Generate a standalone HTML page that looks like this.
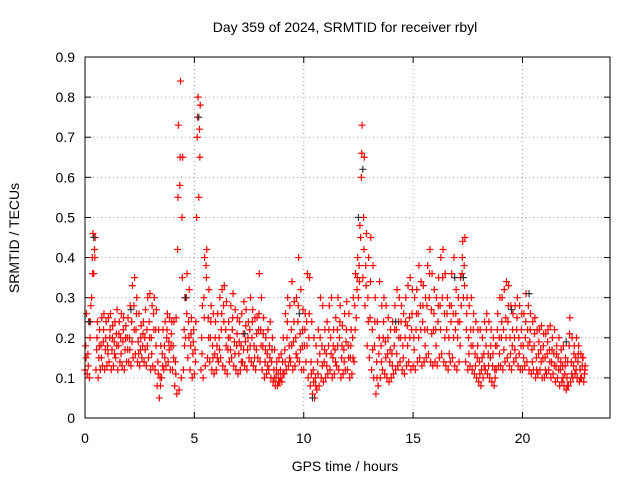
<!DOCTYPE html>
<html><head><meta charset="utf-8"><style>
body{margin:0;background:#fff}
svg{display:block;font-family:"Liberation Sans",sans-serif}
</style></head><body>
<svg id="c" width="640" height="480">
<text x="345" y="32" font-size="14" text-anchor="middle">Day 359 of 2024, SRMTID for receiver rbyl</text>
<text x="345" y="471" font-size="14" text-anchor="middle">GPS time / hours</text>
<text transform="translate(19,238) rotate(-90)" font-size="14" text-anchor="middle">SRMTID / TECUs</text>
<g id="grid"></g><g id="pts"></g>
<rect x="85" y="57" width="525" height="361" fill="none" stroke="#000"/>
</svg>
<script>
const xTicks=[0,5,10,15,20];
const yTicks=[0,0.1,0.2,0.3,0.4,0.5,0.6,0.7,0.8,0.9];
const t0=0, dt=0.1;
const lo=[0.12,0.11,0.10,0.30,0.36,0.12,0.10,0.12,0.13,0.12,
0.13,0.14,0.12,0.13,0.15,0.12,0.14,0.13,0.12,0.14,
0.14,0.13,0.15,0.16,0.14,0.13,0.15,0.14,0.13,0.15,
0.12,0.13,0.12,0.08,0.05,0.10,0.12,0.13,0.14,0.12,
0.12,0.08,0.06,0.07,0.10,0.12,0.20,0.15,0.12,0.10,
0.11,0.50,0.55,0.12,0.10,0.13,0.15,0.14,0.12,0.11,
0.12,0.14,0.15,0.13,0.12,0.11,0.14,0.15,0.13,0.12,
0.11,0.12,0.14,0.13,0.12,0.15,0.14,0.13,0.12,0.15,
0.14,0.12,0.10,0.11,0.12,0.10,0.09,0.08,0.08,0.09,
0.09,0.11,0.12,0.13,0.14,0.12,0.13,0.15,0.14,0.12,
0.12,0.14,0.10,0.08,0.06,0.05,0.07,0.08,0.10,0.09,
0.10,0.11,0.12,0.10,0.11,0.13,0.12,0.10,0.11,0.12,
0.12,0.10,0.11,0.14,0.25,0.30,0.45,0.35,0.28,0.18,
0.15,0.12,0.10,0.06,0.08,0.10,0.12,0.11,0.10,0.09,
0.10,0.11,0.12,0.13,0.14,0.12,0.11,0.13,0.14,0.12,
0.13,0.12,0.14,0.15,0.13,0.14,0.15,0.16,0.14,0.13,
0.14,0.13,0.15,0.16,0.14,0.13,0.12,0.14,0.15,0.13,
0.12,0.14,0.28,0.30,0.14,0.12,0.13,0.12,0.11,0.10,
0.09,0.08,0.10,0.12,0.11,0.10,0.09,0.08,0.12,0.13,
0.13,0.12,0.14,0.15,0.13,0.12,0.14,0.15,0.13,0.12,
0.12,0.13,0.14,0.12,0.11,0.12,0.10,0.11,0.12,0.10,
0.10,0.11,0.12,0.10,0.11,0.09,0.10,0.08,0.09,0.08,
0.07,0.08,0.09,0.10,0.11,0.10,0.09,0.10,0.09];
const mid=[0.18,0.16,0.20,0.40,0.42,0.17,0.15,0.18,0.19,0.17,
0.18,0.20,0.17,0.19,0.21,0.18,0.20,0.19,0.17,0.20,
0.20,0.24,0.28,0.22,0.19,0.17,0.18,0.20,0.22,0.24,
0.20,0.26,0.22,0.14,0.10,0.16,0.18,0.20,0.19,0.18,
0.18,0.14,0.42,0.58,0.50,0.22,0.30,0.24,0.18,0.16,
0.17,0.70,0.72,0.20,0.30,0.38,0.25,0.20,0.18,0.16,
0.18,0.20,0.22,0.28,0.22,0.17,0.20,0.22,0.19,0.18,
0.16,0.18,0.21,0.19,0.17,0.22,0.20,0.18,0.17,0.22,
0.22,0.18,0.14,0.16,0.18,0.14,0.12,0.10,0.11,0.12,
0.14,0.17,0.20,0.18,0.22,0.19,0.20,0.24,0.21,0.18,
0.18,0.24,0.20,0.14,0.12,0.10,0.14,0.16,0.18,0.14,
0.16,0.18,0.20,0.15,0.17,0.22,0.20,0.15,0.17,0.19,
0.18,0.15,0.20,0.28,0.32,0.38,0.60,0.50,0.38,0.30,
0.25,0.22,0.18,0.14,0.16,0.18,0.20,0.19,0.16,0.14,
0.16,0.18,0.22,0.24,0.20,0.18,0.20,0.23,0.25,0.22,
0.20,0.22,0.26,0.28,0.24,0.22,0.28,0.30,0.27,0.22,
0.22,0.24,0.28,0.30,0.26,0.22,0.20,0.24,0.26,0.22,
0.20,0.24,0.36,0.38,0.22,0.20,0.22,0.18,0.16,0.15,
0.14,0.12,0.16,0.18,0.16,0.15,0.13,0.12,0.18,0.20,
0.20,0.22,0.25,0.24,0.20,0.18,0.20,0.22,0.20,0.18,
0.18,0.20,0.22,0.19,0.17,0.18,0.15,0.16,0.17,0.15,
0.15,0.16,0.17,0.14,0.16,0.13,0.15,0.12,0.13,0.11,
0.10,0.18,0.14,0.13,0.15,0.14,0.12,0.13,0.11];
const hi=[0.26,0.24,0.28,0.46,0.45,0.24,0.22,0.25,0.26,0.24,
0.25,0.26,0.23,0.24,0.27,0.24,0.26,0.25,0.23,0.25,
0.28,0.33,0.35,0.30,0.26,0.23,0.24,0.27,0.30,0.31,
0.28,0.30,0.27,0.22,0.18,0.22,0.24,0.26,0.25,0.24,
0.24,0.25,0.73,0.84,0.65,0.30,0.36,0.32,0.25,0.22,
0.24,0.80,0.78,0.28,0.40,0.42,0.32,0.28,0.26,0.24,
0.26,0.30,0.32,0.33,0.29,0.24,0.28,0.31,0.27,0.25,
0.24,0.26,0.29,0.27,0.24,0.30,0.27,0.25,0.25,0.36,
0.30,0.25,0.20,0.22,0.24,0.20,0.17,0.14,0.15,0.16,
0.20,0.26,0.30,0.28,0.34,0.29,0.30,0.40,0.32,0.27,
0.26,0.36,0.35,0.24,0.20,0.18,0.22,0.30,0.28,0.22,
0.24,0.28,0.30,0.22,0.25,0.30,0.28,0.23,0.26,0.29,
0.26,0.22,0.30,0.36,0.40,0.48,0.73,0.65,0.46,0.40,
0.45,0.38,0.30,0.24,0.34,0.28,0.30,0.28,0.25,0.22,
0.24,0.28,0.32,0.30,0.28,0.26,0.30,0.33,0.35,0.32,
0.30,0.32,0.38,0.34,0.33,0.30,0.38,0.42,0.36,0.32,
0.30,0.35,0.40,0.42,0.36,0.30,0.28,0.36,0.40,0.32,
0.30,0.35,0.44,0.45,0.30,0.28,0.30,0.26,0.24,0.22,
0.22,0.20,0.24,0.26,0.24,0.22,0.20,0.18,0.26,0.30,
0.30,0.32,0.34,0.33,0.28,0.26,0.28,0.30,0.28,0.26,
0.26,0.31,0.28,0.26,0.24,0.25,0.22,0.22,0.23,0.21,
0.21,0.22,0.23,0.20,0.22,0.18,0.20,0.17,0.18,0.15,
0.14,0.25,0.20,0.18,0.20,0.18,0.16,0.15,0.13];
const q=[0.15,0.13,0.24,0.36,0.40,0.20,0.18,0.15,0.22,0.20,
0.16,0.22,0.20,0.16,0.18,0.21,0.16,0.22,0.20,0.17,
0.17,0.19,0.22,0.26,0.16,0.20,0.21,0.17,0.18,0.20,
0.16,0.22,0.18,0.11,0.08,0.13,0.15,0.22,0.17,0.21,
0.15,0.11,0.55,0.65,0.35,0.18,0.26,0.20,0.21,0.19,
0.14,0.75,0.65,0.16,0.25,0.35,0.20,0.24,0.15,0.20,
0.15,0.17,0.26,0.24,0.18,0.20,0.17,0.25,0.16,0.21,
0.19,0.14,0.17,0.23,0.20,0.18,0.24,0.15,0.21,0.26,
0.18,0.21,0.17,0.13,0.15,0.17,0.10,0.12,0.09,0.10,
0.11,0.14,0.24,0.15,0.18,0.24,0.16,0.28,0.17,0.22,
0.22,0.18,0.26,0.11,0.09,0.08,0.11,0.20,0.13,0.17,
0.13,0.22,0.16,0.18,0.14,0.18,0.24,0.18,0.14,0.22,
0.15,0.18,0.15,0.22,0.35,0.34,0.66,0.42,0.33,0.24,
0.34,0.17,0.24,0.10,0.20,0.14,0.24,0.15,0.20,0.17,
0.13,0.22,0.16,0.20,0.24,0.15,0.24,0.18,0.20,0.26,
0.17,0.26,0.20,0.22,0.28,0.18,0.22,0.36,0.21,0.26,
0.18,0.28,0.22,0.35,0.20,0.26,0.16,0.28,0.20,0.26,
0.24,0.18,0.40,0.33,0.26,0.16,0.18,0.22,0.13,0.18,
0.11,0.15,0.13,0.22,0.13,0.18,0.16,0.10,0.22,0.16,
0.24,0.17,0.20,0.28,0.16,0.22,0.17,0.25,0.16,0.22,
0.15,0.24,0.18,0.22,0.14,0.21,0.12,0.19,0.14,0.18,
0.12,0.19,0.14,0.17,0.13,0.16,0.12,0.14,0.10,0.13,
0.08,0.21,0.11,0.16,0.12,0.16,0.10,0.15,0.12];
const blackT=[0.2,0.4,2.1,4.6,5.2,7.3,9.8,10.4,12.5,12.7,14.2,16.9,17.3,19.5,20.3,22.0];
const blackV=[0.24,0.45,0.27,0.30,0.75,0.21,0.26,0.05,0.50,0.62,0.24,0.35,0.35,0.27,0.31,0.19];
const X0=85,X1=610,Y0=418,Y1=57,XMAX=24,YMAX=0.9;
const sx=v=>X0+(v/XMAX)*(X1-X0), sy=v=>Y0-(v/YMAX)*(Y0-Y1);
const NS='http://www.w3.org/2000/svg';
const grid=document.getElementById('grid'), pts=document.getElementById('pts');
function mk(tag,attrs,parent){const e=document.createElementNS(NS,tag);for(const k in attrs)e.setAttribute(k,attrs[k]);parent.appendChild(e);return e;}
xTicks.forEach(t=>{const x=sx(t);
 const g=mk('line',{x1:x,x2:x,y1:Y0,y2:Y1,stroke:'#a0a0a0','stroke-dasharray':'1,3'},grid);
 
 
 mk('line',{x1:x,x2:x,y1:Y0,y2:Y0-6,stroke:'#000'},grid);
 mk('line',{x1:x,x2:x,y1:Y1,y2:Y1+6,stroke:'#000'},grid);
 const l=mk('text',{x:x,y:Y0+25,'font-size':14,'text-anchor':'middle'},grid);l.textContent=t;
 
 
});
yTicks.forEach(t=>{const y=sy(t);
 const g=mk('line',{x1:X0,x2:X1,y1:y,y2:y,stroke:'#a0a0a0','stroke-dasharray':'1,3'},grid);
 
 
 mk('line',{x1:X0,x2:X0+6,y1:y,y2:y,stroke:'#000'},grid);
 mk('line',{x1:X1,x2:X1-6,y1:y,y2:y,stroke:'#000'},grid);
 const l=mk('text',{x:X0-10,y:y+5,'font-size':14,'text-anchor':'end'},grid);l.textContent=t;
 
 
});
function plus(t,v,col){const x=sx(t),y=sy(v);
 const p=mk('path',{d:`M${x-3.5},${y}h7M${x},${y-3.5}v7`,stroke:col,'stroke-width':1.2,fill:'none'},pts);
 
 
}
lo.forEach((v,i)=>plus(t0+i*dt,v,'#f00'));
mid.forEach((v,i)=>plus(t0+i*dt+0.033,v,'#f00'));
hi.forEach((v,i)=>plus(t0+i*dt+0.066,v,'#f00'));
q.forEach((v,i)=>plus(t0+i*dt+0.05,v,'#f00'));
blackT.forEach((t,i)=>plus(t,blackV[i],'#333'));
</script>
</body></html>
